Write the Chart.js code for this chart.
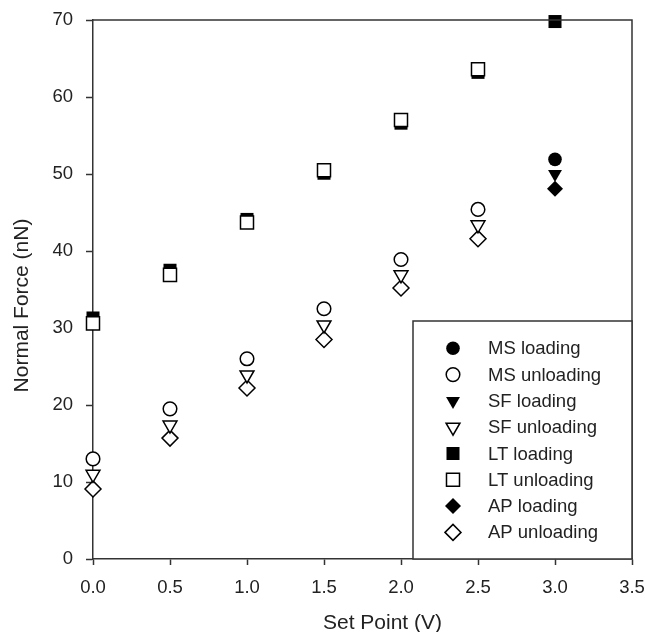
<!DOCTYPE html>
<html>
<head>
<meta charset="utf-8">
<title>Normal Force vs Set Point</title>
<script src="https://cdn.jsdelivr.net/npm/chart.js@4/dist/chart.umd.min.js"></script>
<style>
  html, body { margin: 0; padding: 0; background: #fff; }
  canvas { display: block; }
</style>
</head>
<body>
<canvas id="chart" width="645" height="632"></canvas>
<script>
// Set point voltages (V)
const setPoints = [0.0, 0.5, 1.0, 1.5, 2.0, 2.5, 3.0];

// Normal force (nN) per sample, loading and unloading
const msLoading   = [null, null, null, null, null, null, 51.9];
const msUnloading = [13.0, 19.5, 26.0, 32.5, 38.9, 45.4, null];
const sfLoading   = [null, null, null, null, null, null, 50.0];
const sfUnloading = [11.0, 17.4, 23.9, 30.4, 36.9, 43.4, null];
const ltLoading   = [31.3, 37.5, 44.1, 50.1, 56.6, 63.2, 69.8];
const ltUnloading = [30.6, 36.9, 43.7, 50.5, 57.0, 63.6, null];
const apLoading   = [null, null, null, null, null, null, 48.1];
const apUnloading = [9.1, 15.7, 22.2, 28.5, 35.2, 41.6, null];

// Axis ticks and titles
const xTicks = [0.0, 0.5, 1.0, 1.5, 2.0, 2.5, 3.0, 3.5];
const yTicks = [0, 10, 20, 30, 40, 50, 60, 70];
const xTitle = 'Set Point (V)';
const yTitle = 'Normal Force (nN)';

const FONT = "'Liberation Sans', Arial, Helvetica, sans-serif";
const INK = '#222';
const LINE = '#333';

function toPoints(values) {
  const pts = [];
  values.forEach((v, i) => { if (v !== null) pts.push({ x: setPoints[i], y: v }); });
  return pts;
}

function series(label, values, style, filled, radius, rotation) {
  return {
    label,
    data: toPoints(values),
    showLine: false,
    pointStyle: style,
    pointRotation: rotation || 0,
    pointRadius: radius,
    pointHoverRadius: radius,
    pointBackgroundColor: filled ? '#000' : '#fff',
    pointBorderColor: '#000',
    pointBorderWidth: filled ? 0 : 1.5,
    backgroundColor: filled ? '#000' : '#fff',
    borderColor: '#000',
    order: filled ? 1 : 0,
    clip: false
  };
}

const datasets = [
  series('MS loading',   msLoading,   'circle',   true,  6.8),
  series('MS unloading', msUnloading, 'circle',   false, 6.8),
  series('SF loading',   sfLoading,   'triangle', true,  8, 180),
  series('SF unloading', sfUnloading, 'triangle', false, 8, 180),
  series('LT loading',   ltLoading,   'rect',     true,  9.2),
  series('LT unloading', ltUnloading, 'rect',     false, 9.2),
  series('AP loading',   apLoading,   'rectRot',  true,  8),
  series('AP unloading', apUnloading, 'rectRot',  false, 8)
];

// Closes the plot frame on the top and right sides
const frame = {
  id: 'frame',
  afterDatasetsDraw(chart) {
    const { ctx, chartArea: a } = chart;
    ctx.save();
    ctx.strokeStyle = LINE;
    ctx.lineWidth = 1.5;
    ctx.beginPath();
    ctx.moveTo(a.left, a.top);
    ctx.lineTo(a.right, a.top);
    ctx.lineTo(a.right, a.bottom);
    ctx.stroke();
    ctx.restore();
  }
};

// Axis titles, placed slightly off the plot centre lines
const axisTitles = {
  id: 'axisTitles',
  afterDraw(chart) {
    const { ctx, chartArea: a } = chart;
    ctx.save();
    ctx.fillStyle = INK;
    ctx.font = '21px ' + FONT;
    ctx.textAlign = 'center';
    ctx.textBaseline = 'alphabetic';
    ctx.fillText(xTitle, (a.left + a.right) / 2 + 20, 629);
    ctx.translate(27.5, (a.top + a.bottom) / 2 + 16);
    ctx.rotate(-Math.PI / 2);
    ctx.fillText(yTitle, 0, 0);
    ctx.restore();
  }
};

// Boxed legend sitting in the lower right corner of the plot
const boxLegend = {
  id: 'boxLegend',
  afterDraw(chart) {
    const { ctx, chartArea: a } = chart;
    const boxW = 219, boxH = 238;
    const left = a.right - boxW, top = a.bottom - boxH;
    ctx.save();
    ctx.fillStyle = '#fff';
    ctx.fillRect(left, top, boxW, boxH);
    ctx.strokeStyle = LINE;
    ctx.lineWidth = 1.5;
    ctx.strokeRect(left, top, boxW, boxH);
    ctx.font = '18.5px ' + FONT;
    ctx.textBaseline = 'middle';
    ctx.textAlign = 'left';
    chart.data.datasets.forEach((ds, i) => {
      const y = top + 27.3 + i * 26.3;
      const x = left + 40;
      ctx.fillStyle = ds.pointBackgroundColor;
      ctx.strokeStyle = '#000';
      ctx.lineWidth = ds.pointBorderWidth;
      Chart.helpers.drawPoint(ctx, {
        pointStyle: ds.pointStyle,
        rotation: ds.pointRotation,
        radius: ds.pointRadius,
        borderWidth: ds.pointBorderWidth
      }, x, y);
      ctx.fillStyle = INK;
      ctx.fillText(ds.label, left + 75, y + 1);
    });
    ctx.restore();
  }
};

new Chart(document.getElementById('chart'), {
  type: 'scatter',
  data: { datasets },
  options: {
    responsive: false,
    animation: false,
    events: [],
    layout: { autoPadding: false, padding: { top: 20, right: 13, left: 0, bottom: 0 } },
    plugins: {
      legend: { display: false },
      tooltip: { enabled: false }
    },
    scales: {
      x: {
        type: 'linear',
        min: 0,
        max: 3.5,
        afterBuildTicks(scale) { scale.ticks = xTicks.map(v => ({ value: v })); },
        afterFit(scale) { scale.height = 73; scale.paddingLeft = 0; scale.paddingRight = 0; },
        ticks: {
          color: INK,
          font: { family: FONT, size: 18.5 },
          padding: 12,
          maxRotation: 0,
          callback: v => Number(v).toFixed(1)
        },
        grid: {
          drawOnChartArea: false,
          drawTicks: true,
          tickLength: 6,
          tickColor: LINE,
          tickWidth: 1.5
        },
        border: { display: true, color: LINE, width: 1.5 }
      },
      y: {
        type: 'linear',
        min: 0,
        max: 70,
        afterBuildTicks(scale) { scale.ticks = yTicks.map(v => ({ value: v })); },
        afterFit(scale) { scale.width = 93; scale.paddingTop = 0; scale.paddingBottom = 0; },
        ticks: {
          color: INK,
          font: { family: FONT, size: 18.5 },
          padding: 13
        },
        grid: {
          drawOnChartArea: false,
          drawTicks: true,
          tickLength: 7,
          tickColor: LINE,
          tickWidth: 1.5
        },
        border: { display: true, color: LINE, width: 1.5 }
      }
    }
  },
  plugins: [frame, axisTitles, boxLegend]
});
</script>
</body>
</html>
